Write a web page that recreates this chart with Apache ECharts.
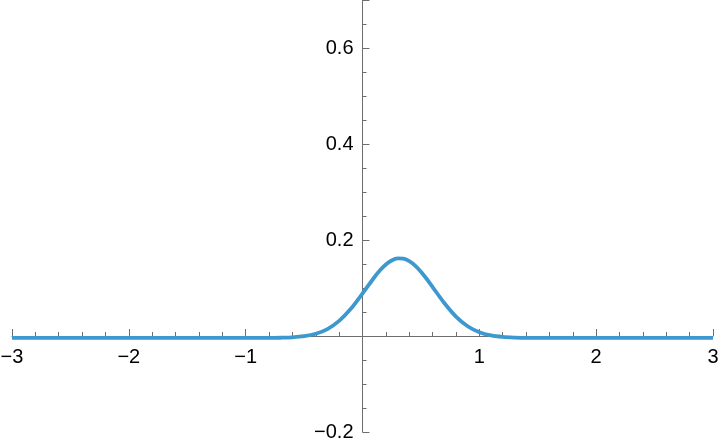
<!DOCTYPE html>
<html>
<head>
<meta charset="utf-8">
<script src="https://cdn.jsdelivr.net/npm/echarts@6/dist/echarts.min.js"></script>
<style>html,body{margin:0;padding:0;background:#fff}#c{width:720px;height:448px}</style>
</head>
<body>
<div id="c"></div>
<script>
var xValues = [-3, -2.5, -2, -1.5, -1, -0.8, -0.7, -0.6, -0.5, -0.4, -0.3, -0.2, -0.1, 0, 0.1, 0.15, 0.2, 0.25, 0.3, 0.35, 0.4, 0.45, 0.5, 0.55, 0.6, 0.7, 0.8, 0.9, 1.0, 1.1, 1.2, 1.3, 1.4, 1.5, 2, 2.5, 3];
var yValues = [-0.004, -0.004, -0.004, -0.004, -0.004, -0.004, -0.0036, -0.0027, -0.0004, 0.0046, 0.0145, 0.0314, 0.0566, 0.0885, 0.1219, 0.1368, 0.1489, 0.1574, 0.1616, 0.1612, 0.156, 0.1467, 0.134, 0.1187, 0.102, 0.0687, 0.0405, 0.0203, 0.0078, 0.0011, -0.002, -0.0033, -0.0038, -0.004, -0.004, -0.004, -0.004];
var xTickLabels = ['\u22123', '\u22122', '\u22121', '', '1', '2', '3'];
var yTickLabels = ['\u22120.2', '', '0.2', '0.4', '0.6'];

var data = xValues.map(function (x, i) { return [x, yValues[i]]; });
var chart = echarts.init(document.getElementById('c'));
var axisColor = '#6e6e6e';
var gridLeft = 12, gridRight = 7, gridTop = 0, gridBottom = 16;
var W = 720, H = 448;
var plotW = W - gridLeft - gridRight, plotH = H - gridTop - gridBottom;
var yMin = -0.2, yMax = 0.7, xMin = -3, xMax = 3;
var xAxisOffset = -plotH * (0 - yMin) / (yMax - yMin);
var yAxisOffset = -plotW * (0 - xMin) / (xMax - xMin);
chart.setOption({
  animation: false,
  grid: { left: gridLeft, right: gridRight, top: gridTop, bottom: gridBottom, containLabel: false, outerBoundsMode: 'none' },
  xAxis: {
    type: 'value', min: xMin, max: xMax, interval: 1, offset: xAxisOffset,
    axisLine: { onZero: false, lineStyle: { color: axisColor, width: 1 } },
    axisTick: { inside: true, length: 7, lineStyle: { color: axisColor } },
    minorTick: { show: true, splitNumber: 5, length: 4, lineStyle: { color: axisColor } },
    splitLine: { show: false },
    axisLabel: {
      color: '#000', fontSize: 20, fontFamily: 'Liberation Sans', margin: 11,
      formatter: function (v) { return xTickLabels[Math.round(v) + 3]; }
    }
  },
  yAxis: {
    type: 'value', min: yMin, max: yMax, interval: 0.2, offset: yAxisOffset,
    axisLine: { onZero: false, lineStyle: { color: axisColor, width: 1 } },
    axisTick: { inside: true, length: 7, lineStyle: { color: axisColor } },
    minorTick: { show: true, splitNumber: 4, length: 4, lineStyle: { color: axisColor } },
    splitLine: { show: false },
    axisLabel: {
      color: '#000', fontSize: 20, fontFamily: 'Liberation Sans', margin: 9,
      showMaxLabel: false,
      formatter: function (v) {
        var idx = Math.round((v + 0.2) / 0.2);
        return yTickLabels[idx] !== undefined ? yTickLabels[idx] : '';
      }
    }
  },
  series: [{
    type: 'line', data: data, showSymbol: false, smooth: 0.3,
    lineStyle: { color: '#3d98cf', width: 3.8 },
    clip: false
  }]
});
</script>
</body>
</html>
